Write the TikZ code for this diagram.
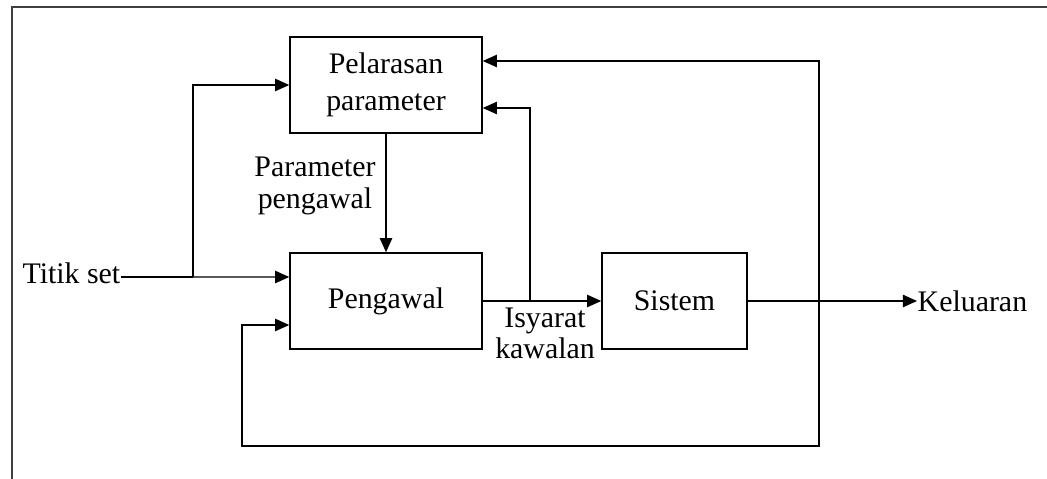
\documentclass[tikz,border=0pt]{standalone}
\usepackage{fontspec}
\setmainfont{Liberation Serif}
\usetikzlibrary{arrows.meta, positioning}

\tikzset{
    block/.style={draw, line width=0.9pt, minimum height=1.92cm, inner sep=0pt, align=center, font=\fontsize{17}{21}\selectfont},
    lbl/.style={inner sep=0pt, align=center, font=\fontsize{17}{18}\selectfont},
    >={Triangle[length=8pt, width=7pt]}
}

\begin{document}
\begin{tikzpicture}[x=0.02cm, y=-0.02cm, line width=0.8pt]
    \useasboundingbox (0, 0) rectangle (1047, 479);
    \draw[line width=1.1pt, black!75] (12, 479) -- (12, 7) -- (1047, 7);

    % blocks
    \node[block, minimum width=3.84cm] (pelaras) at (386, 85) {Pelarasan\\parameter};
    \node[block, minimum width=3.84cm] (pengawal) at (386, 301) {Pengawal};
    \node[block, minimum width=2.9cm] (sistem) at (674.5, 301) {Sistem};

    % labels
    \node[lbl, anchor=base east] (titik) at (121, 284) {Titik set};
    \node[lbl, anchor=west] (keluaran) at (917, 301) {Keluaran};
    \node[lbl] (param) at (315, 186) {Parameter\\pengawal};
    \node[lbl, anchor=north] (isyarat) at (545, 307) {Isyarat\\kawalan};

    % branch points
    \coordinate (cabang) at (193, 277);
    \coordinate (kawal) at (530, 301);
    \coordinate (suap) at (819, 301);
    \coordinate (bawah) at (242, 446);

    \draw
    (titik.east |- cabang) -- (cabang)
    (cabang) edge[->] ([yshift=0.48cm]pengawal.west)
    (pelaras.south) edge[->] (pengawal.north)
    (pengawal.east) edge[->] (sistem.west)
    (sistem.east) edge[->] (keluaran.west);
    \draw[->] (cabang) |- (pelaras.west);
    \draw[->] (kawal) |- ([yshift=-0.46cm]pelaras.east);
    \draw[->] (suap) |- ([yshift=0.48cm]pelaras.east);
    \draw[->] (suap) |- (bawah) |- ([yshift=-0.48cm]pengawal.west);
\end{tikzpicture}
\end{document}
